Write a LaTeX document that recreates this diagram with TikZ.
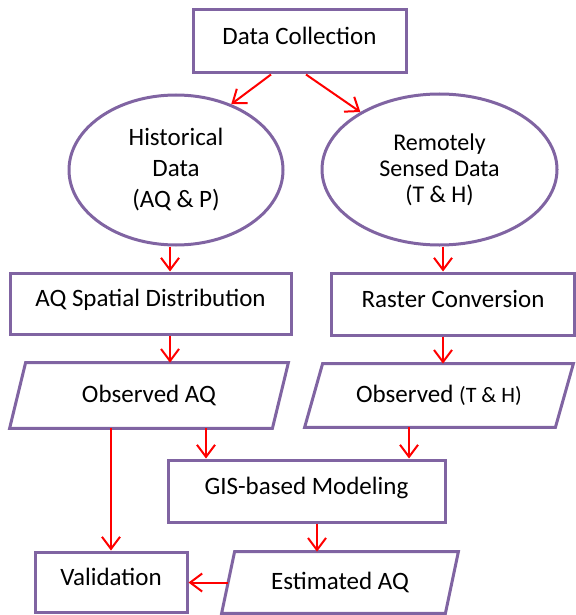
\documentclass[tikz,border=0pt]{standalone}
\usepackage{fontspec}
\setmainfont{Carlito}
\usetikzlibrary{arrows.meta,shapes.geometric}

\definecolor{boxpurple}{RGB}{128,100,162}

\begin{document}
\begin{tikzpicture}[x=0.5pt,y=-0.5pt,>={Straight Barb[length=6pt,width=9pt]},
    every node/.style={font=\fontsize{12.5}{15}\selectfont},
    box/.style={draw=boxpurple,line width=1.5pt,rectangle,inner sep=0pt,
      text height=9pt,text depth=6pt},
    oval/.style={draw=boxpurple,line width=1.5pt,ellipse,inner sep=0pt,align=center},
    slant/.style={rectangle,inner sep=0pt,
      append after command={\pgfextra{\draw[boxpurple,line width=1.5pt]
        ([xshift=#1]\tikzlastnode.north west) -- (\tikzlastnode.north east)
        -- ([xshift=-#1]\tikzlastnode.south east) -- (\tikzlastnode.south west) -- cycle;}}},
    flow/.style={->,red,line width=1pt}]
    \useasboundingbox (0,0) rectangle (575,615);

    \node[box,minimum width=106.5pt,minimum height=31.5pt] (dc) at (299.5,41.5) {Data Collection};
    \node[oval,minimum width=107pt,minimum height=75pt,
      font=\fontsize{12.5}{15.5}\selectfont] (hist) at (176,170) {Historical\\Data\\(AQ \& P)};
    \node[oval,minimum width=117.5pt,minimum height=75.5pt,
      font=\fontsize{12}{13}\selectfont] (remote) at (439.5,169.5) {Remotely\\Sensed Data\\(T \& H)};
    \node[box,minimum width=140.5pt,minimum height=30.5pt] (aq) at (150.5,303.5) {AQ Spatial Distribution};
    \node[box,minimum width=121.5pt,minimum height=31pt] (raster) at (453,304) {Raster Conversion};
    \node[slant=8pt,minimum width=139pt,minimum height=32.5pt] (obsaq) at (149,395.5) {Observed AQ};
    \node[slant=9pt,minimum width=134pt,minimum height=31.5pt] (obsth) at (439,395.5)
      {Observed {\fontsize{11}{13}\selectfont(T \& H)}};
    \node[box,minimum width=138.5pt,minimum height=31pt] (gis) at (306.5,491) {GIS-based Modeling};
    \node[box,minimum width=76pt,minimum height=30pt] (val) at (111,582) {Validation};
    \node[slant=6.5pt,minimum width=118pt,minimum height=30.5pt] (est) at (340,582.5) {Estimated AQ};

    % arrow columns
    \coordinate (c1) at (170,0);
    \coordinate (c2) at (443,0);
    \coordinate (c3) at (206,0);
    \coordinate (c4) at (409,0);
    \coordinate (c5) at (317,0);

    \path[flow]
    ([xshift=-14.25pt]dc.south) edge (hist.50)
    ([xshift=3.25pt]dc.south) edge (remote.144)
    (hist.south -| c1) edge (aq.north -| c1)
    (remote.south -| c2) edge (raster.north -| c2)
    (aq.south -| c1) edge (obsaq.north -| c1)
    (raster.south -| c2) edge (obsth.north -| c2)
    (obsaq.south -| c3) edge (gis.north -| c3)
    (obsth.south -| c4) edge (gis.north -| c4)
    (obsaq.south -| val.north) edge (val.north)
    (gis.south -| c5) edge (est.north -| c5)
    ([xshift=3pt]est.west) edge (est.west -| val.east)
    ;
\end{tikzpicture}
\end{document}
